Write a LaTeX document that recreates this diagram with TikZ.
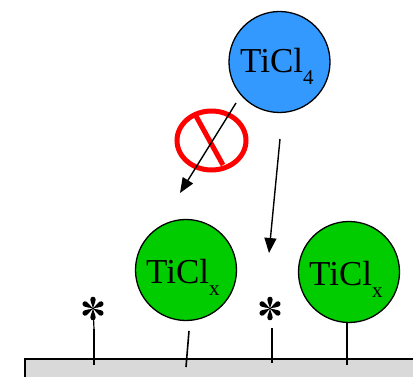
\documentclass[tikz,border=0pt]{standalone}
\usepackage{fontspec}
\setmainfont{Liberation Serif}
\usetikzlibrary{arrows.meta,shapes.geometric}
\definecolor{blueball}{RGB}{51,153,255}
\definecolor{greenball}{RGB}{0,204,0}
\definecolor{substrate}{RGB}{217,217,217}
\newcommand{\mainsize}{\fontsize{35}{35}\selectfont}
\newcommand{\subsize}{\fontsize{21}{21}\selectfont}
\newcommand{\chem}[1]{\mainsize TiCl\raisebox{-12pt}{\subsize #1}}
\tikzset{
  ball/.style={circle, draw=black, line width=1.3pt, minimum size=101pt, inner sep=0pt},
  chemlabel/.style={inner sep=0pt, anchor=base west},
  stick/.style={line width=1.6pt, black},
  thickstick/.style={line width=2.6pt, black},
  arr/.style={line width=1.4pt, -{Triangle[length=15pt,width=12pt]}},
  ban/.style={draw=red, line width=5pt},
  astk/.pic={
    \foreach \a in {0,60,...,300}
      \fill[black, rotate=\a] (0,0) .. controls (-0.9,-4) and (-2.7,-6.5) .. (-2.7,-8.8)
        .. controls (-2.7,-10.7) and (-1.5,-11.8) .. (0,-11.8)
        .. controls (1.5,-11.8) and (2.7,-10.7) .. (2.7,-8.8)
        .. controls (2.7,-6.5) and (0.9,-4) .. (0,0) -- cycle;
    \fill[black] (0,0) circle (1.2);
  }
}
\begin{document}
\begin{tikzpicture}[x=1pt,y=-1pt]
\useasboundingbox (0,0) rectangle (413,377);
% substrate
\draw[fill=substrate, line width=1.3pt] (25,359) rectangle (430,390);
% balls
\node[ball, fill=blueball] (ticl4) at (279.5,62) {};
\node[chemlabel] (ticl4t) at (240,73) {\chem{4}};
\node[ball, fill=greenball] (g1) at (186,270) {};
\node[chemlabel] (g1t) at (146,284) {\chem{x}};
\node[ball, fill=greenball] (g2) at (349,272) {};
\node[chemlabel] (g2t) at (309,286) {\chem{x}};
% sticks
\coordinate (s1a) at (94,329); \coordinate (s1b) at (94,365);
\draw[thickstick] (s1a) -- (s1b);
\coordinate (s2a) at (189,331); \coordinate (s2b) at (186,367);
\draw[stick] (s2a) -- (s2b);
\coordinate (s3a) at (272,328); \coordinate (s3b) at (272,363);
\draw[stick] (s3a) -- (s3b);
\coordinate (s4b) at (347,365);
\draw[stick] (g2.south -| s4b) -- (s4b);
% asterisks
\coordinate (st1) at (93,308.5);
\pic at (st1) {astk};
\draw[line width=1.2pt] (93.5,318) -- (s1a);
\coordinate (st2) at (270,308.5);
\pic at (st2) {astk};
% forbidden
\node[ban, ellipse, minimum width=69pt, minimum height=59pt, inner sep=0pt] (no) at (211.5,140.5) {};
\coordinate (sl1) at (196,116); \coordinate (sl2) at (223,165);
\draw[draw=red, line width=5pt] (sl1) -- (sl2);
% arrows
\coordinate (a1s) at (236,103); \coordinate (a1e) at (180,193);
\draw[arr] (a1s) -- (a1e);
\coordinate (a2s) at (280,139); \coordinate (a2e) at (269,253);
\draw[arr] (a2s) -- (a2e);
\end{tikzpicture}
\end{document}
